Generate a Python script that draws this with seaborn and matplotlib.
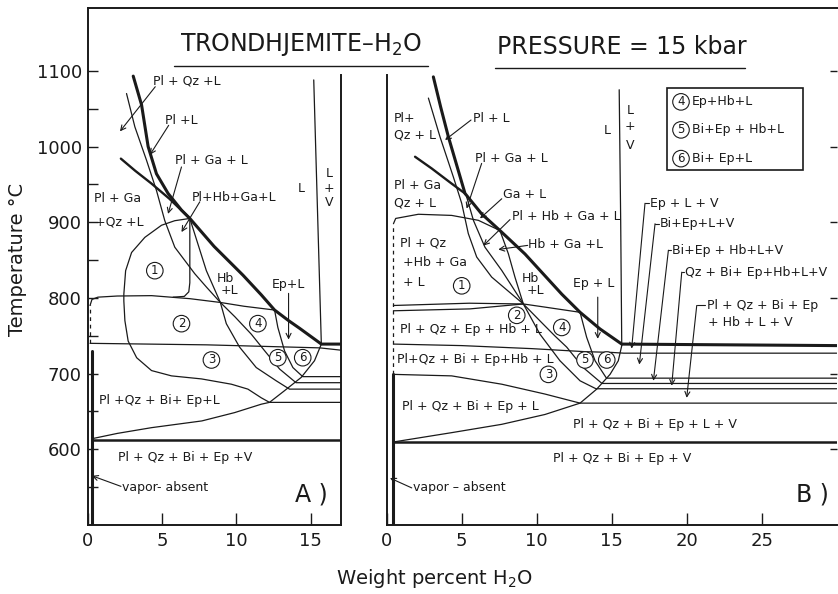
import matplotlib.pyplot as plt
from matplotlib.lines import Line2D
from matplotlib.patches import Rectangle
import seaborn as sns

# ------------------ panel A : 0-17 wt% H2O ------------------
# values are (wt% H2O, temperature C)
a_liq_x = [3.07, 3.63, 4.07, 4.63, 5.41, 6.31, 6.87, 8.5, 10.44, 11.67, 12.56, 13.5, 14.23, 15.0, 15.7, 17.0]
a_liq_t = [1093, 1055, 1000, 964, 938, 916, 905, 868, 830, 804, 784, 770, 760, 749, 739, 739]
a_ga_x = [2.24, 3.2, 4.3, 5.5, 6.87]
a_ga_t = [984, 968, 951, 931, 905]
a_qz_x = [2.62, 3.18, 3.96, 4.63, 5.19, 5.86, 7.2, 8.0, 8.92, 9.9, 11.0, 11.9, 12.9, 14.0, 17.0]
a_qz_t = [1070, 1026, 982, 942, 902, 867, 832, 814, 794, 775, 752, 730, 706, 688, 688]
a_hb_x = [6.87, 7.98, 8.92, 9.32, 10.21, 11.33, 12.67, 13.56, 17.0]
a_hb_t = [905, 836, 794, 766, 735, 708, 690.5, 679.5, 679.5]
a_ep_x = [12.56, 12.78, 13.23, 13.79, 14.45, 17.0]
a_ep_t = [784, 761, 730, 708, 696, 696]
a_sol_x = [0.3, 2.0, 4.3, 7.68, 9.88, 11.67, 12.22, 13.2, 14.35, 15.24, 15.7]
a_sol_t = [614, 621, 628.6, 637.5, 648.5, 659.6, 662, 677, 695, 717, 739]
a_out_x = [6.87, 5.86, 4.97, 3.85, 2.96, 2.56, 2.44, 2.44, 2.51, 2.73, 3.3, 4.3, 5.64, 7.65, 9.66, 10.77, 11.67, 12.22, 17.0]
a_out_t = [905, 902, 896, 880, 860, 836, 805, 796, 770, 743, 721, 704, 697, 693, 686, 679.5, 668, 662, 662]
a_in_x = [6.87, 6.87, 6.8, 6.5, 5.75]
a_in_t = [905, 820, 808, 802, 801]
a_800_x = [0.17, 0.3, 0.7, 2.0, 4.3, 6.87, 8.92, 10.5, 12.56]
a_800_t = [790, 798, 801, 802.5, 803, 799, 794, 789, 784]
a_740_x = [0.17, 8.0, 15.6, 17.0]
a_740_t = [740, 738, 734, 731]
a_dash_x = [0.17, 0.17]
a_dash_t = [740, 790]
a_612_x = [0.3, 17.0]
a_612_t = [612, 612]
a_vap_x = [0.32, 0.32]
a_vap_t = [500, 730]
a_lv_x = [15.19, 15.45, 15.7]
a_lv_t = [1088, 910, 739]

# ------------------ panel B : 0-30 wt% H2O ------------------
b_liq_x = [3.11, 3.6, 4.11, 5.22, 6.33, 7.55, 9.22, 11.67, 12.89, 14.22, 15.67, 30.0]
b_liq_t = [1092, 1052, 1013, 938, 911, 889, 858, 805, 781, 759, 739, 737]
b_ga_x = [1.89, 3.0, 4.33, 5.22]
b_ga_t = [986.5, 971, 951, 938]
b_qz_x = [2.78, 3.55, 4.44, 5.0, 5.44, 6.0, 7.0, 9.11, 10.3, 11.2, 12.0, 13.1, 14.35, 30.0]
b_qz_t = [1064, 1013, 960, 925, 885, 854, 827.5, 792, 768, 750, 735, 708, 687, 687]
b_t2_x = [5.33, 5.78, 6.55, 7.67, 9.11]
b_t2_t = [933.5, 902.5, 867, 836.3, 792]
b_hb_x = [7.55, 8.11, 8.55, 9.11, 10.22, 11.55, 12.89, 13.95, 30.0]
b_hb_t = [889, 858.4, 827.5, 792, 752, 717, 690.5, 680, 680]
b_ep_x = [12.89, 13.33, 13.89, 14.65, 30.0]
b_ep_t = [781, 748, 717, 694, 694]
b_sol_x = [0.55, 4.33, 7.67, 10.55, 12.89, 14.0, 14.89, 15.44, 15.67]
b_sol_t = [610, 622, 633, 646, 661, 679.5, 699, 717, 737]
b_700_x = [0.44, 4.33, 7.67, 10.55, 12.89, 30.0]
b_700_t = [699, 697, 686, 673, 661, 661]
b_905_x = [0.45, 0.6, 2.11, 4.33, 6.11, 7.55]
b_905_t = [898, 905, 910.5, 909, 902.5, 889]
b_790_x = [0.45, 5.5, 9.11, 10.5, 12.89]
b_790_t = [790, 793, 792, 788, 781]
b_783_x = [0.45, 5.55, 9.11]
b_783_t = [783, 785.5, 792]
b_740_x = [0.45, 5.0, 9.67, 13.2, 15.0, 15.8, 30.0]
b_740_t = [739, 737, 733, 729, 728, 727, 727]
b_dash_x = [0.45, 0.45]
b_dash_t = [699, 898]
b_vap_x = [0.45, 0.45]
b_vap_t = [500, 699]
b_610_x = [0.45, 30.0]
b_610_t = [610, 610]
b_lv_x = [15.5, 15.6, 15.67]
b_lv_t = [1075, 900, 737]

# labels (text, x, T, ha)
a_labels = [("Pl + Qz +L", 4.41, 1086, "left"), ("Pl +L", 5.19, 1035, "left"),
            ("Pl + Ga + L", 5.9, 982, "left"), ("Pl+Hb+Ga+L", 7.02, 933, "left"),
            ("Pl + Ga", 0.45, 931, "left"), ("+Qz +L", 0.5, 900, "left"),
            ("Hb", 8.65, 825, "left"), ("+L", 8.95, 810, "left"),
            ("Ep+L", 12.4, 818, "left"), ("L", 14.35, 944, "center"),
            ("L", 16.24, 965, "center"), ("+", 16.24, 945, "center"), ("V", 16.24, 926, "center"),
            ("Pl +Qz + Bi+ Ep+L", 0.8, 664, "left"),
            ("Pl + Qz + Bi + Ep +V", 2.07, 589, "left"),
            ("vapor- absent", 2.29, 550, "left")]
a_arrows = [((4.55, 1079), (2.18, 1020)), ((5.45, 1028), (4.19, 989)),
            ((6.31, 973), (5.41, 911)), ((7.54, 927), (6.31, 887)),
            ((13.5, 806), (13.5, 745)), ((2.25, 551), (0.3, 565))]
a_circles = [("1", 4.52, 836), ("2", 6.31, 766), ("3", 8.32, 718),
             ("4", 11.44, 766), ("5", 12.78, 721), ("6", 14.45, 721)]

b_labels = [("Pl+", 0.5, 1037, "left"), ("Qz + L", 0.5, 1015, "left"),
            ("Pl + L", 5.78, 1037, "left"), ("Pl + Ga + L", 5.89, 984, "left"),
            ("Pl + Ga", 0.5, 949, "left"), ("Qz + L", 0.5, 925, "left"),
            ("Ga + L", 7.78, 936, "left"), ("Pl + Hb + Ga + L", 8.33, 908, "left"),
            ("Hb + Ga +L", 9.44, 871, "left"),
            ("Pl + Qz", 0.89, 872, "left"), ("+Hb + Ga", 1.1, 847, "left"), ("+ L", 1.1, 821, "left"),
            ("Hb", 9.0, 825, "left"), ("+L", 9.33, 810, "left"),
            ("Ep + L", 12.44, 819, "left"), ("L", 14.67, 1021, "center"),
            ("L", 16.22, 1048, "center"), ("+", 16.22, 1026, "center"), ("V", 16.22, 1002, "center"),
            ("Pl + Qz + Ep + Hb + L", 0.89, 758, "left"),
            ("Pl+Qz + Bi + Ep+Hb + L", 0.67, 718, "left"),
            ("Pl + Qz + Bi + Ep + L", 1.0, 657, "left"),
            ("Pl + Qz + Bi + Ep + L + V", 12.44, 633, "left"),
            ("Pl + Qz + Bi + Ep + V", 11.1, 588, "left"),
            ("vapor \u2013 absent", 1.78, 549, "left"),
            ("+ Hb + L + V", 21.4, 768, "left")]
b_arrows = [((5.62, 1035), (3.89, 1008.6)), ((6.33, 977.7), (5.33, 918)),
            ((7.67, 931), (6.22, 905)), ((8.22, 903.5), (6.44, 869)),
            ((9.4, 869.4), (7.44, 864)), ((14.07, 801), (14.07, 746)),
            ((1.67, 549), (0.22, 562))]
b_circles = [("1", 5.0, 816), ("2", 8.67, 777), ("3", 10.78, 699),
             ("4", 11.67, 761), ("5", 13.22, 718), ("6", 14.67, 718)]
# text, text x, T, corner x, arrow head x, head T
b_leaders = [("Ep + L + V", 17.55, 925, 17.22, 16.33, 733),
             ("Bi+Ep+L+V", 18.22, 898, 17.89, 16.84, 712),
             ("Bi+Ep + Hb+L+V", 19.0, 863, 18.78, 17.78, 690.5),
             ("Qz + Bi+ Ep+Hb+L+V", 19.89, 834, 19.67, 19.0, 684),
             ("Pl + Qz + Bi + Ep", 21.33, 790, 20.67, 20.0, 668)]
legend_rows = [("4", "Ep+Hb+L", 1059), ("5", "Bi+Ep + Hb+L", 1022), ("6", "Bi+ Ep+L", 984)]

sns.set_theme(style="ticks")
plt.rcParams['font.family'] = ['DejaVu Sans']
plt.rcParams['mathtext.default'] = 'regular'
plt.rcParams['text.color'] = 'black'

W, H = 838, 594
fig = plt.figure(figsize=(W / 100, H / 100), dpi=100)


def box(x0, y0, x1, y1):
    return [x0 / W, 1 - y1 / H, (x1 - x0) / W, (y1 - y0) / H]


axA = fig.add_axes(box(87.5, 8, 340.7, 525))
axB = fig.add_axes(box(386.7, 8, 836.7, 525))


def line(ax, xs, ts, lw=0.9, ls="-"):
    sns.lineplot(x=xs, y=ts, ax=ax, sort=False, estimator=None,
                 color="k", linewidth=lw, linestyle=ls)


def arrow(ax, tail, head):
    ax.annotate("", xy=head, xytext=tail,
                arrowprops=dict(arrowstyle="->", lw=0.8, color="k",
                                shrinkA=0, shrinkB=0, mutation_scale=9))


def circled(ax, s, x, t):
    ax.text(x, t, s, ha="center", va="center", fontsize=8.5, color="k",
            bbox=dict(boxstyle="circle,pad=0.15", fc="white", ec="k", lw=0.8))


# panel A
for xs, ts in [(a_qz_x, a_qz_t), (a_hb_x, a_hb_t), (a_ep_x, a_ep_t), (a_sol_x, a_sol_t),
               (a_out_x, a_out_t), (a_in_x, a_in_t), (a_800_x, a_800_t),
               (a_740_x, a_740_t), (a_lv_x, a_lv_t)]:
    line(axA, xs, ts)
line(axA, a_dash_x, a_dash_t, ls=(0, (3, 3)))
line(axA, a_liq_x, a_liq_t, lw=2.2)
line(axA, a_ga_x, a_ga_t, lw=1.7)
line(axA, a_612_x, a_612_t, lw=1.8)
line(axA, a_vap_x, a_vap_t, lw=2.2)

# panel B
for xs, ts in [(b_qz_x, b_qz_t), (b_t2_x, b_t2_t), (b_hb_x, b_hb_t), (b_ep_x, b_ep_t),
               (b_sol_x, b_sol_t), (b_700_x, b_700_t), (b_905_x, b_905_t),
               (b_790_x, b_790_t), (b_783_x, b_783_t), (b_740_x, b_740_t), (b_lv_x, b_lv_t)]:
    line(axB, xs, ts)
line(axB, b_dash_x, b_dash_t, ls=(0, (3, 3)))
line(axB, b_liq_x, b_liq_t, lw=2.2)
line(axB, b_ga_x, b_ga_t, lw=1.7)
line(axB, b_610_x, b_610_t, lw=1.8)
line(axB, b_vap_x, b_vap_t, lw=2.2)

for ax, labels, arrows, circles in [(axA, a_labels, a_arrows, a_circles),
                                    (axB, b_labels, b_arrows, b_circles)]:
    for s, x, t, ha in labels:
        ax.text(x, t, s, ha=ha, va="center", fontsize=9, color="k")
    for tail, head in arrows:
        arrow(ax, tail, head)
    for s, x, t in circles:
        circled(ax, s, x, t)

for s, tx, tt, cx, hx, ht in b_leaders:
    axB.text(tx, tt, s, ha="left", va="center", fontsize=9, color="k")
    axB.plot([cx, tx - 0.08], [tt, tt], color="k", lw=0.8)
    arrow(axB, (cx, tt), (hx, ht))

# legend box of the numbered fields
axB.add_patch(Rectangle((18.67, 969), 9.11, 108, fill=False, ec="k", lw=1.2))
for s, txt, t in legend_rows:
    circled(axB, s, 19.62, t)
    axB.text(20.33, t, txt, ha="left", va="center", fontsize=9, color="k")

axA.text(15.0, 540, "A )", ha="center", va="center", fontsize=17, color="k")
axB.text(28.4, 540, "B )", ha="center", va="center", fontsize=17, color="k")

# axes formatting
for ax, xmax in [(axA, 17), (axB, 30)]:
    ax.set_xlim(0, xmax)
    ax.set_ylim(500, 1183)
    ax.set_xlabel("")
    ax.set_ylabel("")
    ax.spines["top"].set_visible(False)
    for sp in ax.spines.values():
        sp.set_linewidth(1.4)
        sp.set_color("k")
    ax.tick_params(axis="x", direction="in", length=9, width=1, labelsize=13,
                   pad=5, colors="k")

axA.spines["right"].set_bounds(500, 1095)
axB.spines["left"].set_bounds(500, 1095)
axB.spines["right"].set_visible(False)

axA.set_xticks([0, 5, 10, 15])
axA.set_yticks([600, 700, 800, 900, 1000, 1100])
axA.set_yticks([550, 650, 750, 850, 950, 1050], minor=True)
axA.tick_params(axis="y", which="both", direction="in", length=7, width=1,
                labelsize=13, pad=4, colors="k")

axB.set_xticks([0, 5, 10, 15, 20, 25])
axB.set_yticks([600, 700, 800, 900, 1000, 1100])
axB.tick_params(axis="y", which="both", left=False, right=True, labelleft=False,
                direction="in", length=5, width=1, colors="k")

# frame line along the top and the two underlined headings
fig.add_artist(Line2D([87.5 / W, 1.0], [1 - 8 / H] * 2, color="k", lw=1.4))
fig.add_artist(Line2D([174 / W, 428 / W], [1 - 65.7 / H] * 2, color="k", lw=1.0))
fig.add_artist(Line2D([495 / W, 745 / W], [1 - 68.3 / H] * 2, color="k", lw=1.0))
fig.text(301 / W, 1 - 45 / H, "TRONDHJEMITE\u2013H$_2$O", ha="center", va="center", fontsize=17, color="k")
fig.text(622 / W, 1 - 47 / H, "PRESSURE = 15 kbar", ha="center", va="center", fontsize=17, color="k")

fig.text(18 / W, 1 - 259 / H, "Temperature \u00b0C", rotation=90, ha="center", va="center", fontsize=14, color="k")
fig.text(434 / W, 1 - 578 / H, "Weight percent H$_2$O", ha="center", va="center", fontsize=14, color="k")

fig.savefig("out.png", dpi=100)
